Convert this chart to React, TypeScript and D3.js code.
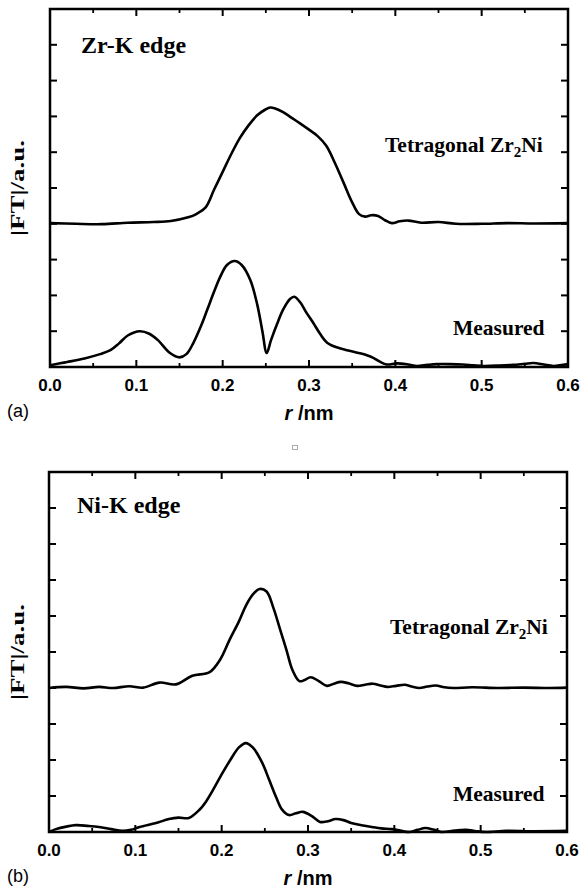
import React from "react";
import * as d3 from "d3";

// ---------- data ----------
const xTicks = [0, 0.1, 0.2, 0.3, 0.4, 0.5, 0.6];
const xMinorTicks = [0.05, 0.15, 0.25, 0.35, 0.45, 0.55];
const yTicks = [1, 2, 3, 4, 5, 6, 7, 8, 9];

// Zr-K edge, tetragonal Zr2Ni (offset baseline 4)
const zrTetraR = [0, 0.03, 0.06, 0.09, 0.12, 0.14, 0.16, 0.17, 0.18, 0.19, 0.2, 0.21, 0.22, 0.23, 0.24, 0.25, 0.255, 0.26, 0.27, 0.28, 0.29, 0.3, 0.31, 0.32, 0.33, 0.34, 0.35, 0.358, 0.365, 0.372, 0.38, 0.388, 0.396, 0.405, 0.415, 0.43, 0.45, 0.47, 0.5, 0.53, 0.56, 0.6];
const zrTetraV = [4.02, 4.0, 3.99, 4.03, 4.05, 4.08, 4.18, 4.28, 4.45, 4.95, 5.45, 5.95, 6.4, 6.75, 7.03, 7.2, 7.25, 7.23, 7.12, 6.96, 6.8, 6.63, 6.45, 6.18, 5.7, 5.15, 4.6, 4.27, 4.2, 4.24, 4.22, 4.1, 4.02, 4.07, 4.09, 4.03, 4.05, 4.0, 4.0, 4.02, 4.01, 4.02];

// Zr-K edge, measured
const zrMeasR = [0, 0.02, 0.04, 0.058, 0.07, 0.08, 0.09, 0.104, 0.115, 0.125, 0.139, 0.15, 0.158, 0.166, 0.175, 0.182, 0.19, 0.197, 0.205, 0.214, 0.222, 0.232, 0.24, 0.246, 0.251, 0.256, 0.263, 0.27, 0.278, 0.283, 0.29, 0.297, 0.305, 0.313, 0.321, 0.332, 0.344, 0.356, 0.367, 0.375, 0.382, 0.39, 0.402, 0.415, 0.425, 0.437, 0.448, 0.463, 0.478, 0.49, 0.502, 0.52, 0.536, 0.55, 0.56, 0.572, 0.583, 0.6];
const zrMeasV = [0.05, 0.14, 0.24, 0.36, 0.47, 0.66, 0.88, 1.0, 0.93, 0.75, 0.39, 0.27, 0.36, 0.67, 1.15, 1.59, 2.1, 2.51, 2.85, 2.96, 2.85, 2.43, 1.75, 1.0, 0.39, 0.75, 1.2, 1.6, 1.9, 1.96, 1.8, 1.52, 1.23, 0.92, 0.68, 0.55, 0.47, 0.4, 0.33, 0.25, 0.15, 0.07, 0.1, 0.07, 0.03, 0.06, 0.08, 0.08, 0.07, 0.05, 0.03, 0.04, 0.06, 0.09, 0.11, 0.07, 0.03, 0.08];

// Ni-K edge, tetragonal Zr2Ni (offset baseline 4)
const niTetraR = [0, 0.02, 0.04, 0.058, 0.074, 0.093, 0.109, 0.128, 0.147, 0.166, 0.186, 0.198, 0.209, 0.22, 0.229, 0.237, 0.244, 0.252, 0.26, 0.268, 0.275, 0.282, 0.29, 0.296, 0.303, 0.312, 0.322, 0.33, 0.338, 0.347, 0.357, 0.366, 0.375, 0.384, 0.392, 0.402, 0.412, 0.42, 0.429, 0.438, 0.448, 0.458, 0.468, 0.49, 0.52, 0.55, 0.58, 0.6];
const niTetraV = [4.0, 4.03, 3.99, 4.03, 4.0, 4.05, 4.01, 4.15, 4.1, 4.34, 4.44, 4.78, 5.33, 5.85, 6.33, 6.62, 6.75, 6.68, 6.22, 5.6, 5.06, 4.5, 4.19, 4.22, 4.3, 4.2, 4.06, 4.12, 4.17, 4.13, 4.06, 4.09, 4.12, 4.07, 4.03, 4.06, 4.09, 4.04, 4.0, 4.04, 4.07, 4.02, 4.0, 4.02, 4.0, 4.01, 4.0, 4.01];

// Ni-K edge, measured
const niMeasR = [0, 0.008, 0.02, 0.031, 0.045, 0.058, 0.072, 0.085, 0.095, 0.105, 0.124, 0.139, 0.15, 0.162, 0.174, 0.182, 0.19, 0.2, 0.21, 0.22, 0.228, 0.236, 0.247, 0.255, 0.263, 0.27, 0.278, 0.286, 0.294, 0.304, 0.314, 0.323, 0.332, 0.341, 0.35, 0.362, 0.374, 0.385, 0.397, 0.407, 0.417, 0.427, 0.436, 0.446, 0.455, 0.47, 0.483, 0.495, 0.506, 0.53, 0.56, 0.6];
const niMeasV = [0.0, 0.08, 0.15, 0.19, 0.17, 0.14, 0.08, 0.03, 0.06, 0.14, 0.25, 0.36, 0.4, 0.39, 0.61, 0.85, 1.17, 1.6, 2.0, 2.35, 2.47, 2.35, 1.92, 1.45, 0.97, 0.62, 0.47, 0.52, 0.56, 0.45, 0.28, 0.3, 0.36, 0.33, 0.25, 0.19, 0.14, 0.1, 0.08, 0.04, 0.0, 0.06, 0.11, 0.06, 0.0, 0.04, 0.06, 0.02, 0.0, 0.03, 0.02, 0.03];

// ---------- layout ----------
type Panel = {
  left: number; right: number; top: number; bottom: number;
  title: string; tetra: [number[], number[]]; meas: [number[], number[]];
  tag: string; titleX: number; titleY: number;
  tetraLabelX: number; tetraLabelY: number; measLabelX: number; measLabelY: number;
};

const panels: Panel[] = [
  {
    left: 50, right: 568, top: 9, bottom: 367,
    title: "Zr-K edge", tetra: [zrTetraR, zrTetraV], meas: [zrMeasR, zrMeasV], tag: "(a)",
    titleX: 81, titleY: 53, tetraLabelX: 385, tetraLabelY: 152, measLabelX: 453, measLabelY: 335,
  },
  {
    left: 49, right: 567, top: 472, bottom: 832,
    title: "Ni-K edge", tetra: [niTetraR, niTetraV], meas: [niMeasR, niMeasV], tag: "(b)",
    titleX: 77, titleY: 513, tetraLabelX: 390, tetraLabelY: 634, measLabelX: 453, measLabelY: 801,
  },
];

const SANS = "'Liberation Sans', Arial, sans-serif";
const SERIF = "'Liberation Serif', 'Times New Roman', serif";

function PanelView({ p }: { p: Panel }) {
  const x = d3.scaleLinear().domain([0, 0.6]).range([p.left, p.right]);
  const y = d3.scaleLinear().domain([0, 10]).range([p.bottom, p.top]);
  const line = d3
    .line<[number, number]>()
    .x((d) => x(d[0]))
    .y((d) => y(d[1]))
    .curve(d3.curveCatmullRom.alpha(0.5));
  const zip = (a: number[], b: number[]) => a.map((v, i) => [v, b[i]] as [number, number]);
  const midY = (p.top + p.bottom) / 2;
  const midX = (p.left + p.right) / 2;
  return (
    <g>
      {/* curves */}
      <path d={line(zip(p.tetra[0], p.tetra[1])) || ""} fill="none" stroke="#000" strokeWidth={2.6} strokeLinejoin="round" />
      <path d={line(zip(p.meas[0], p.meas[1])) || ""} fill="none" stroke="#000" strokeWidth={2.6} strokeLinejoin="round" />
      {/* frame */}
      <rect x={p.left} y={p.top} width={p.right - p.left} height={p.bottom - p.top} fill="none" stroke="#000" strokeWidth={2.5} />
      {/* x ticks */}
      {xTicks.map((t) => (
        <g key={"mx" + t}>
          <line x1={x(t)} x2={x(t)} y1={p.bottom} y2={p.bottom - 7} stroke="#000" strokeWidth={2} />
          <line x1={x(t)} x2={x(t)} y1={p.top} y2={p.top + 7} stroke="#000" strokeWidth={2} />
          <text x={x(t)} y={p.bottom + 24} textAnchor="middle" fontFamily={SANS} fontWeight="bold" fontSize={17} fill="#000">
            {t.toFixed(1)}
          </text>
        </g>
      ))}
      {xMinorTicks.map((t) => (
        <g key={"nx" + t}>
          <line x1={x(t)} x2={x(t)} y1={p.bottom} y2={p.bottom - 4} stroke="#000" strokeWidth={1.8} />
          <line x1={x(t)} x2={x(t)} y1={p.top} y2={p.top + 4} stroke="#000" strokeWidth={1.8} />
        </g>
      ))}
      {/* y ticks */}
      {yTicks.map((t) => (
        <g key={"y" + t}>
          <line x1={p.left} x2={p.left + 7} y1={y(t)} y2={y(t)} stroke="#000" strokeWidth={2} />
          <line x1={p.right} x2={p.right - 7} y1={y(t)} y2={y(t)} stroke="#000" strokeWidth={2} />
        </g>
      ))}
      {/* labels */}
      <text x={p.titleX} y={p.titleY} fontFamily={SERIF} fontWeight="bold" fontSize={24} fill="#000">
        {p.title}
      </text>
      <text x={p.tetraLabelX} y={p.tetraLabelY} fontFamily={SERIF} fontWeight="bold" fontSize={21.5} fill="#000">
        Tetragonal Zr
        <tspan fontSize={15} dy={5}>2</tspan>
        <tspan dy={-5}>Ni</tspan>
      </text>
      <text x={p.measLabelX} y={p.measLabelY} fontFamily={SERIF} fontWeight="bold" fontSize={21.5} fill="#000">
        Measured
      </text>
      <text
        transform={`translate(24,${midY}) rotate(-90)`}
        textAnchor="middle"
        fontFamily={SERIF}
        fontWeight="bold"
        fontSize={18}
        textLength={96}
        lengthAdjust="spacingAndGlyphs"
        fill="#000"
      >
        |FT|/a.u.
      </text>
      <text x={midX} y={p.bottom + 53} textAnchor="middle" fontFamily={SANS} fontWeight="bold" fontSize={20} fill="#000">
        <tspan fontStyle="italic">r</tspan> /nm
      </text>
      <text x={7} y={p.bottom + 50} fontFamily={SANS} fontSize={18} fill="#000">
        {p.tag}
      </text>
    </g>
  );
}

export default function App() {
  return (
    <svg
      width={581}
      height={890}
      viewBox="0 0 581 890"
      style={{ position: "absolute", left: 0, top: 0, background: "#fff" }}
    >
      <rect x={0} y={0} width={581} height={890} fill="#fff" />
      {panels.map((p, i) => (
        <PanelView key={i} p={p} />
      ))}
      <rect x={292.5} y={445.5} width={5} height={4} fill="none" stroke="#aaa" strokeWidth={1} />
    </svg>
  );
}
